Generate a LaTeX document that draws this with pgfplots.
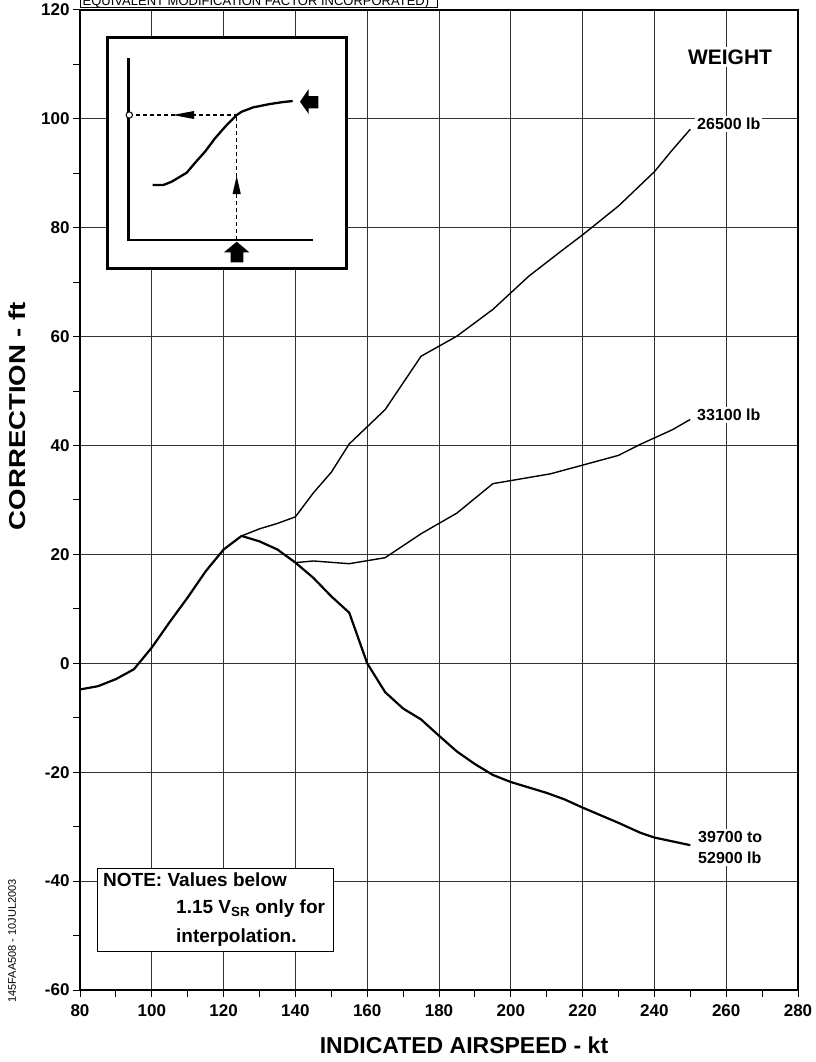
\documentclass[border=0pt]{standalone}
\usepackage{fontspec}
\setmainfont{Liberation Sans}
\usepackage{pgfplots}
\pgfplotsset{compat=1.18}

\newcommand{\ticksize}{\fontsize{17bp}{17bp}\selectfont\bfseries}
\newcommand{\lblfont}{\fontsize{16bp}{21.6bp}\selectfont\bfseries}
\newcommand{\notefont}{\fontsize{19bp}{19bp}\selectfont\bfseries}
\newcommand{\axlabfont}{\fontsize{23bp}{23bp}\selectfont\bfseries}

\begin{document}
\begin{tikzpicture}
\useasboundingbox (0,0) rectangle (816bp,1062bp);

% main chart
\begin{axis}[
    at={(80bp,72bp)}, anchor=south west,
    scale only axis, width=718bp, height=980bp,
    xmin=80, xmax=280, ymin=-60, ymax=120,
    xtick={80,100,...,280}, ytick={-60,-40,...,120},
    xticklabels={80,100,120,140,160,180,200,220,240,260,280},
    yticklabels={-60,-40,-20,0,20,40,60,80,100,120},
    minor x tick num=1, minor y tick num=1,
    tick pos=left, tick align=outside,
    major tick length=7bp, minor tick length=7bp,
    every tick/.style={black, line width=1bp},
    grid=major,
    major grid style={black!80, line width=0.9bp},
    axis line style={line width=2.2bp},
    tick label style={font=\ticksize},
    xticklabel style={yshift=-4bp},
]
% 26500 lb
\addplot[line width=1.4bp, line join=round] coordinates {
    (125,23.4) (130,24.7) (135,25.7) (140,26.9) (145,31.3) (150,35.1)
    (155,40.3) (165,46.6) (175,56.4) (185,60.1) (195,65.0) (205,71.1)
    (214,75.7) (220,78.7) (230,84.0) (240,90.3) (245,94.3) (250,98.1)
};
% 33100 lb
\addplot[line width=1.4bp, line join=round] coordinates {
    (140,18.5) (145,18.8) (155,18.3) (165,19.4) (175,23.8) (185,27.6)
    (195,33.0) (211,34.8) (220,36.4) (230,38.2) (236,40.2) (245,42.9)
    (250,44.8)
};
% 39700 to 52900 lb (and common part)
\addplot[line width=2.2bp, line join=round] coordinates {
    (80,-4.8) (85,-4.2) (90,-2.9) (95,-1.1) (100,2.9) (105,7.6)
    (110,12.1) (115,16.9) (120,20.9) (125,23.4) (130,22.4) (135,20.9)
    (140,18.5) (145,15.7) (150,12.3) (155,9.3) (160,0) (165,-5.3)
    (170,-8.3) (175,-10.3) (180,-13.3) (185,-16.2) (190,-18.5) (195,-20.5)
    (200,-21.8) (210,-23.8) (215,-25.0) (220,-26.5) (230,-29.3) (236,-31.1)
    (240,-32.0) (250,-33.4)
};
\end{axis}

% overlay in page pixels (y downwards)
\begin{axis}[
    at={(0,0)}, anchor=south west,
    scale only axis, width=816bp, height=1062bp,
    xmin=0, xmax=816, ymin=0, ymax=1062, y dir=reverse,
    hide axis, clip=false,
]
% header box, cut by the page top
\draw[line width=1bp, fill=white] (80,-20) rectangle (437,7.5);
\node[anchor=base west, inner sep=0, font=\fontsize{13bp}{13bp}\selectfont]
    at (82.5,5) {EQUIVALENT MODIFICATION FACTOR INCORPORATED)};

% inset
\draw[line width=3bp, fill=white] (107,37.5) rectangle (346,268);
\draw[line width=2.4bp] (128.3,58.3) -- (128.3,240) -- (312.7,240);
\addplot[line width=2.3bp, line join=round] coordinates {
    (152.7,185) (163.3,185) (171.7,181.7) (186.7,172.7) (196,161.7)
    (205,151.7) (215,138.3) (226.7,125) (236.7,115) (241.7,111.7)
    (253.3,107.3) (270,104) (283.3,102) (292.7,101)
};
\addplot[line width=1.3bp, dash pattern=on 4bp off 3bp] coordinates {(129.3,115) (236.7,115)};
\addplot[line width=1.3bp, dash pattern=on 4bp off 3bp] coordinates {(236.7,240) (236.7,115)};
\fill (172.7,115) -- (194,111) -- (194,119) -- cycle;
\fill (236.7,176) -- (232.5,194) -- (240.8,194) -- cycle;
\fill (300,101.7) -- (308.7,89) -- (308.7,96) -- (318.3,96) -- (318.3,108.3)
    -- (308.7,108.3) -- (308.7,114) -- cycle;
\fill (236.7,241.7) -- (249.3,252.3) -- (243.3,252.3) -- (243.3,262.3)
    -- (230.7,262.3) -- (230.7,252.3) -- (224,252.3) -- cycle;
\draw[line width=1bp, fill=white] (129.3,115) circle[radius=3.2bp];

% curve labels
\node[fill=white, inner sep=3bp, font=\fontsize{21bp}{21bp}\selectfont\bfseries] at (730,57) {WEIGHT};
\node[anchor=west, fill=white, inner sep=2bp, font=\lblfont] at (695,124) {26500 lb};
\node[anchor=west, fill=white, inner sep=2bp, font=\lblfont] at (695,415) {33100 lb};
\node[anchor=west, fill=white, inner sep=2bp, align=left, font=\lblfont] at (696,847.5) {39700 to\\52900 lb};

% note
\draw[line width=1bp, fill=white] (97,868.5) rectangle (333,951);
\node[anchor=base west, inner sep=0, font=\notefont] at (103,886) {NOTE: Values below};
\node[anchor=base west, inner sep=0, font=\notefont] at (176,913.5) {1.15 V\textsubscript{SR} only for};
\node[anchor=base west, inner sep=0, font=\notefont] at (176,942.5) {interpolation.};

% axis titles and stamp
\node[font=\axlabfont] at (464,1045) {INDICATED AIRSPEED - kt};
\node[rotate=90, xscale=1.2, font=\axlabfont] at (17,416) {CORRECTION - ft};
\node[rotate=90, font=\fontsize{11bp}{11bp}\selectfont] at (12,941) {145FAA508 - 10JUL2003};
\end{axis}
\end{tikzpicture}
\end{document}
